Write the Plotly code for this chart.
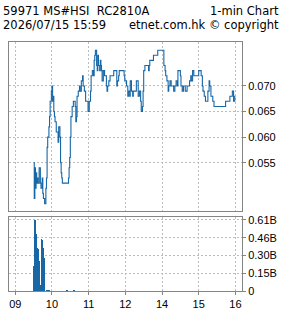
import plotly.graph_objects as go

# ---------------- data ----------------
price_times = [
    "09:30", "09:31", "09:32", "09:33", "09:34", "09:35", "09:36", "09:37", "09:39", "09:40",
    "09:41", "09:42", "09:44", "09:45", "09:46", "09:47", "09:48", "09:50", "09:51", "09:52",
    "09:53", "09:55", "09:56", "09:57", "09:58", "09:59", "10:00", "10:01", "10:02", "10:03",
    "10:04", "10:05", "10:07", "10:08", "10:10", "10:11", "10:13", "10:14", "10:15", "10:16",
    "10:17", "10:20", "10:26", "10:27", "10:28", "10:29", "10:30", "10:31", "10:33", "10:35",
    "10:36", "10:38", "10:39", "10:40", "10:41", "10:43", "10:45", "10:46", "10:48", "10:50",
    "10:51", "10:53", "10:55", "10:56", "10:58", "10:59", "11:01", "11:03", "11:04", "11:06",
    "11:08", "11:09", "11:10", "11:11", "11:13", "11:14", "11:15", "11:16", "11:18", "11:19",
    "11:20", "11:21", "11:22", "11:24", "11:26", "11:27", "11:29", "11:30", "11:31", "11:33",
    "11:35", "11:37", "11:39", "11:41", "11:43", "11:45", "11:46", "11:47", "11:49", "11:50",
    "11:53", "11:56", "11:58", "11:59", "12:00",
    "13:00", "13:02", "13:04", "13:05", "13:07", "13:08", "13:10", "13:12", "13:13", "13:15",
    "13:17", "13:18", "13:20", "13:21", "13:23", "13:25", "13:26", "13:27", "13:28", "13:29",
    "13:30", "13:32", "13:34", "13:36", "13:38", "13:39", "13:40", "13:42", "13:44", "13:46",
    "13:49", "13:52", "13:53", "13:56", "14:02", "14:03", "14:05", "14:06", "14:08", "14:10",
    "14:11", "14:13", "14:15", "14:16", "14:18", "14:19", "14:21", "14:23", "14:25", "14:26",
    "14:28", "14:30", "14:31", "14:33", "14:35", "14:36", "14:38", "14:41", "14:43", "14:45",
    "14:47", "14:48", "14:50", "14:52", "14:54", "14:56", "14:58", "15:00", "15:02", "15:04",
    "15:06", "15:07", "15:09", "15:11", "15:13", "15:15", "15:17", "15:18", "15:20", "15:21",
    "15:23", "15:25", "15:42", "15:44", "15:49", "15:51", "15:53", "15:55", "15:56", "15:57",
    "15:59", "16:00",
]
price_values = [
    0.055, 0.048, 0.054, 0.050, 0.053, 0.051, 0.052, 0.051, 0.054, 0.054,
    0.051, 0.050, 0.052, 0.049, 0.048, 0.048, 0.047, 0.050, 0.052, 0.058,
    0.060, 0.062, 0.064, 0.067, 0.067, 0.069, 0.070, 0.067, 0.068, 0.065,
    0.064, 0.063, 0.061, 0.061, 0.059, 0.062, 0.060, 0.055, 0.053, 0.052,
    0.051, 0.051, 0.051, 0.052, 0.054, 0.056, 0.060, 0.064, 0.066, 0.067,
    0.067, 0.066, 0.063, 0.064, 0.068, 0.069, 0.070, 0.069, 0.071, 0.072,
    0.070, 0.069, 0.067, 0.067, 0.067, 0.065, 0.067, 0.069, 0.072, 0.073,
    0.072, 0.075, 0.076, 0.077, 0.074, 0.073, 0.076, 0.074, 0.073, 0.075,
    0.074, 0.073, 0.071, 0.073, 0.072, 0.072, 0.070, 0.069, 0.070, 0.071,
    0.072, 0.072, 0.072, 0.073, 0.073, 0.073, 0.070, 0.071, 0.072, 0.073,
    0.073, 0.073, 0.072, 0.071, 0.071,
    0.071, 0.070, 0.068, 0.069, 0.068, 0.071, 0.069, 0.068, 0.069, 0.069,
    0.069, 0.071, 0.071, 0.068, 0.069, 0.067, 0.065, 0.065, 0.066, 0.069,
    0.073, 0.074, 0.074, 0.074, 0.073, 0.074, 0.075, 0.075, 0.075, 0.076,
    0.076, 0.076, 0.077, 0.077, 0.077, 0.074, 0.073, 0.072, 0.071, 0.069,
    0.070, 0.071, 0.070, 0.070, 0.070, 0.069, 0.070, 0.071, 0.070, 0.073,
    0.073, 0.072, 0.070, 0.069, 0.070, 0.070, 0.069, 0.070, 0.070, 0.071,
    0.072, 0.071, 0.073, 0.072, 0.072, 0.072, 0.072, 0.073, 0.073, 0.072,
    0.070, 0.069, 0.068, 0.067, 0.067, 0.069, 0.071, 0.070, 0.068, 0.068,
    0.067, 0.066, 0.066, 0.067, 0.067, 0.068, 0.068, 0.069, 0.069, 0.067,
    0.068, 0.068,
]

volume_times = [
    "09:30", "09:31", "09:32", "09:33", "09:34", "09:35", "09:36", "09:37", "09:38", "09:39",
    "09:40", "09:41", "09:42", "09:43", "09:44", "09:45", "09:46", "09:47", "09:48", "09:52",
    "09:55", "10:25", "10:36",
]
volume_values = [
    210e6, 200e6, 610e6, 190e6, 480e6, 490e6, 370e6, 360e6, 280e6, 260e6,
    10e6, 40e6, 50e6, 450e6, 440e6, 370e6, 290e6, 280e6, 10e6, 5e6,
    5e6, 5e6, 5e6,
]

x_tick_times = ["09:00", "10:00", "11:00", "12:00", "14:00", "15:00", "16:00"]
x_tick_labels = ["09", "10", "11", "12", "14", "15", "16"]
price_ticks = [0.055, 0.060, 0.065, 0.070]
price_tick_labels = ["0.055", "0.060", "0.065", "0.070"]
vol_ticks = [0, 152.5e6, 305e6, 457.5e6, 610e6]
vol_tick_labels = ["0", "0.15B", "0.30B", "0.46B", "0.61B"]


def session_minute(t):
    """Minutes after 09:00 on a trading axis with the lunch hour removed."""
    h, m = t.split(":")
    mins = int(h) * 60 + int(m) - 540
    if mins >= 240:  # 13:00 and later
        mins -= 60
    return mins


px = [session_minute(t) for t in price_times]
vx = [session_minute(t) for t in volume_times]
tx = [session_minute(t) for t in x_tick_times]

BLUE = "#1766a6"
GRID = "#bdbdbd"
AXIS = "#858585"
FONT = "Liberation Sans"

fig = go.Figure()
fig.add_trace(go.Scatter(x=px, y=price_values, mode="lines", line=dict(color=BLUE, width=1.1, shape="hv"),
                         xaxis="x", yaxis="y", hoverinfo="skip", showlegend=False))
fig.add_trace(go.Bar(x=vx, y=volume_values, width=1, marker=dict(color=BLUE, line=dict(width=0)),
                     xaxis="x2", yaxis="y2", hoverinfo="skip", showlegend=False))

xr = [-10.3, 370.8]
common_x = dict(range=xr, tickvals=tx, ticktext=x_tick_labels, showgrid=True, gridcolor=GRID,
                gridwidth=1, griddash="2px,2px", showline=True, linecolor=AXIS, linewidth=1,
                mirror=True, zeroline=False, fixedrange=True)

fig.update_layout(
    width=285, height=318,
    margin=dict(l=8, r=43, t=42, b=20),
    paper_bgcolor="white", plot_bgcolor="white",
    font=dict(family=FONT, size=11, color="black"),
    xaxis=dict(**common_x, domain=[0, 1], anchor="y", showticklabels=False, ticks=""),
    xaxis2=dict(**common_x, domain=[0, 1], anchor="y2", matches="x", ticks="outside", ticklen=3,
                tickcolor=AXIS, tickfont=dict(family=FONT, size=11)),
    yaxis=dict(domain=[0.3203, 1], range=[0.0455, 0.0786], side="right", tickvals=price_ticks,
               ticktext=price_tick_labels, ticks="outside", ticklen=3, tickcolor=AXIS,
               showgrid=True, gridcolor=GRID, griddash="2px,2px", showline=True, linecolor=AXIS,
               mirror=True, zeroline=False, fixedrange=True, anchor="x"),
    yaxis2=dict(domain=[0, 0.2969], range=[0, 635e6], side="right", tickvals=vol_ticks,
                ticktext=vol_tick_labels, ticks="outside", ticklen=3, tickcolor=AXIS,
                showgrid=True, gridcolor=GRID, griddash="2px,2px", showline=True, linecolor=AXIS,
                mirror=True, zeroline=False, fixedrange=True, anchor="x2"),
    bargap=0,
)

hdr = dict(family="DejaVu Sans", size=11.5, color="black")
fig.add_annotation(text="59971 MS#HSI  RC2810A", xref="paper", yref="paper", x=-8 / 234, y=1 + 32 / 256,
                   xanchor="left", yanchor="middle", showarrow=False, font=hdr)
fig.add_annotation(text="1-min Chart", xref="paper", yref="paper", x=(281 - 8) / 234, y=1 + 32 / 256,
                   xanchor="right", yanchor="middle", showarrow=False, font=hdr)
fig.add_annotation(text="2026/07/15 15:59", xref="paper", yref="paper", x=-8 / 234, y=1 + 17 / 256,
                   xanchor="left", yanchor="middle", showarrow=False, font=hdr)
fig.add_annotation(text="etnet.com.hk © copyright", xref="paper", yref="paper", x=(281 - 8) / 234,
                   y=1 + 17 / 256, xanchor="right", yanchor="middle", showarrow=False, font=hdr)

fig.write_html("out.html", config={"displayModeBar": False})
